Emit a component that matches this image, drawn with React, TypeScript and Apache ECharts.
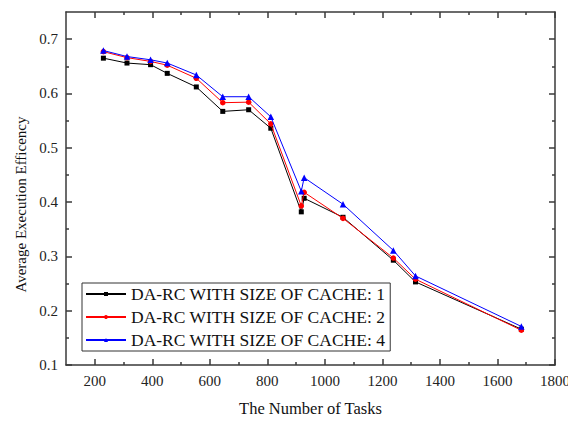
import React, { useEffect, useRef } from "react";
import * as echarts from "echarts";

const tasks = [230, 312, 394, 452, 553, 645, 735, 812, 918, 928, 1063, 1238, 1315, 1683];
const cache1 = [0.665, 0.656, 0.653, 0.637, 0.612, 0.567, 0.570, 0.536, 0.382, 0.407, 0.372, 0.293, 0.253, 0.166];
const cache2 = [0.677, 0.666, 0.659, 0.652, 0.628, 0.583, 0.584, 0.544, 0.393, 0.418, 0.370, 0.297, 0.258, 0.164];
const cache4 = [0.679, 0.668, 0.662, 0.656, 0.634, 0.594, 0.594, 0.557, 0.420, 0.445, 0.396, 0.311, 0.264, 0.171];
const seriesNames = [
  "DA-RC WITH SIZE OF CACHE: 1",
  "DA-RC WITH SIZE OF CACHE: 2",
  "DA-RC WITH SIZE OF CACHE: 4",
];
const xMajorTicks = [200, 400, 600, 800, 1000, 1200, 1400, 1600, 1800];
const xMinorTicks = [300, 500, 700, 900, 1100, 1300, 1500, 1700];
const yMajorTicks = [0.1, 0.2, 0.3, 0.4, 0.5, 0.6, 0.7];
const yMinorTicks = [0.15, 0.25, 0.35, 0.45, 0.55, 0.65];

const FONT = "'Liberation Serif', 'Times New Roman', serif";
const AXIS_COLOR = "#3a3a3a";

export default function App() {
  const ref = useRef<HTMLDivElement>(null);
  useEffect(() => {
    if (!ref.current) return;
    const chart = echarts.init(ref.current, undefined, { renderer: "svg" });
    const xBase = { type: "value", min: 100, max: 1800, splitLine: { show: false } };
    const yBase = { type: "value", min: 0.1, max: 0.75, splitLine: { show: false } };
    const lineStyle = { color: AXIS_COLOR, width: 1.5 };
    const mkX = (pos: string, ticks: number[], len: number, main: boolean) => ({
      ...xBase,
      position: pos,
      axisLine: { show: main, onZero: false, lineStyle },
      axisTick: { show: true, inside: true, length: len, customValues: ticks, lineStyle },
      axisLabel: { show: false },
    });
    const mkY = (pos: string, ticks: number[], len: number, main: boolean) => ({
      ...yBase,
      position: pos,
      axisLine: { show: main, onZero: false, lineStyle },
      axisTick: { show: true, inside: true, length: len, customValues: ticks, lineStyle },
      axisLabel: { show: false },
    });
    const xAxes: any[] = [
      {
        ...mkX("bottom", xMajorTicks, 6, true),
        axisLabel: {
          show: true,
          customValues: xMajorTicks,
          formatter: (v: number) => String(v),
          fontSize: 15,
          fontFamily: FONT,
          color: "#222",
          margin: 8,
        },
        name: "The Number of Tasks",
        nameLocation: "middle",
        nameGap: 35,
        nameTextStyle: { fontSize: 16.5, fontFamily: FONT, color: "#111" },
      },
      mkX("bottom", xMinorTicks, 3, false),
      mkX("top", xMajorTicks, 6, true),
      mkX("top", xMinorTicks, 3, false),
    ];
    const yAxes: any[] = [
      {
        ...mkY("left", yMajorTicks, 6, true),
        axisLabel: {
          show: true,
          customValues: yMajorTicks,
          formatter: (v: number) => v.toFixed(1),
          fontSize: 15,
          fontFamily: FONT,
          color: "#222",
          margin: 8,
        },
        name: "Average Execution Efficency",
        nameLocation: "middle",
        nameGap: 38,
        nameTextStyle: {
          fontSize: 15,
          fontFamily: FONT,
          color: "#111",
          padding: [0, 32, 0, 0],
        },
      },
      mkY("left", yMinorTicks, 3, false),
      mkY("right", yMajorTicks, 6, true),
      mkY("right", yMinorTicks, 3, false),
    ];
    const colors = ["#000000", "#ff0000", "#0000ff"];
    const symbols = ["rect", "circle", "triangle"];
    const sizes = [5, 5.5, 6.5];
    const values = [cache1, cache2, cache4];
    chart.setOption({
      animation: false,
      textStyle: { fontFamily: FONT },
      grid: { left: 66, right: 21, top: 12, bottom: 55 },
      xAxis: xAxes,
      yAxis: yAxes,
      legend: {
        orient: "vertical",
        left: 82,
        top: 283,
        data: seriesNames,
        backgroundColor: "#fff",
        borderColor: "#333",
        borderWidth: 1,
        borderRadius: 0,
        padding: [2, 5, 2, 3],
        itemGap: 5,
        itemWidth: 40,
        itemHeight: 5,
        textStyle: { fontSize: 17.5, fontFamily: FONT, color: "#111" },
      },
      series: seriesNames.map((name, i) => ({
        name,
        type: "line",
        xAxisIndex: 0,
        yAxisIndex: 0,
        data: tasks.map((t, j) => [t, values[i][j]]),
        symbol: symbols[i],
        symbolSize: sizes[i],
        itemStyle: { color: colors[i] },
        lineStyle: { color: colors[i], width: 1 },
        z: 3 + i,
      })),
    });
    return () => chart.dispose();
  }, []);
  return <div ref={ref} style={{ width: 576, height: 422, marginLeft: -8, marginTop: -8 }} />;
}
